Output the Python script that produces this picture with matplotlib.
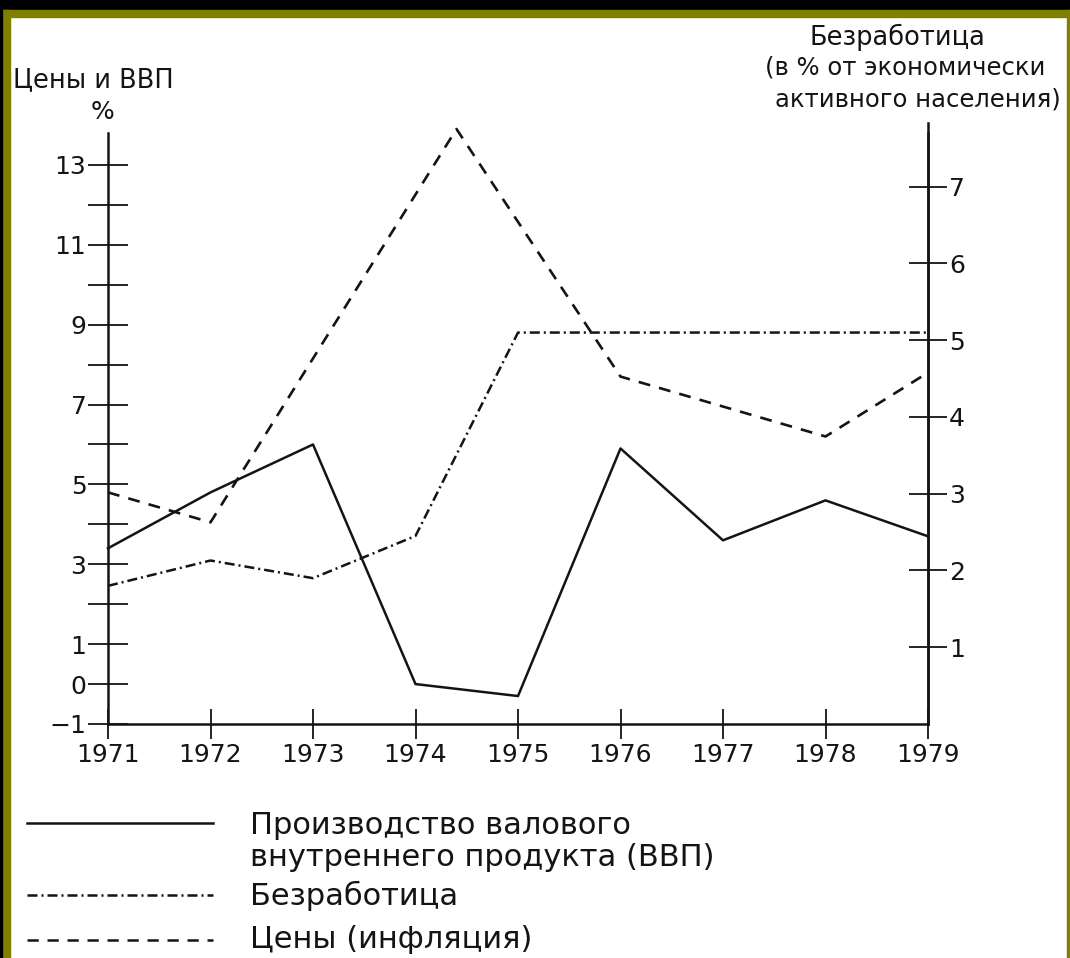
import matplotlib.pyplot as plt
from matplotlib.lines import Line2D
from matplotlib.patches import Rectangle

# the scan uses a wide grotesque; DejaVu Sans is the closest width match
plt.rcParams['font.family'] = ['DejaVu Sans']

# Data
years = [1971, 1972, 1973, 1974, 1975, 1976, 1977, 1978, 1979]
gdp = [3.4, 4.8, 6.0, 0.0, -0.3, 5.9, 3.6, 4.6, 3.7]          # left axis, %
unemployment = [1.8, 2.13, 1.9, 2.45, 5.1, 5.1, 5.1, 5.1, 5.1]  # right axis, %
price_years = [1971, 1972, 1974.4, 1976, 1978, 1979]
prices = [4.8, 4.05, 13.9, 7.7, 6.2, 7.8]                     # left axis, %

left_ticks = [-1, 0, 1, 3, 5, 7, 9, 11, 13]
left_minor = [2, 4, 6, 8, 10, 12]
right_ticks = [1, 2, 3, 4, 5, 6, 7]

INK = '#141414'
OLIVE = '#7f7f00'
SOLID = '-'
DASHDOT = (0, (4, 1.6, 0.8, 1.6))
DASHED = (0, (4.5, 3.5))

W, H = 1070, 958
fig = plt.figure(figsize=(W / 100, H / 100), dpi=100)
fig.patch.set_facecolor('white')

ax = fig.add_axes([108 / W, 1 - 724 / H, 820 / W, 591 / H])
ax2 = ax.twinx()

ax.plot(years, gdp, color=INK, lw=1.8, ls=SOLID, clip_on=False)
ax.plot(price_years, prices, color=INK, lw=1.9, ls=DASHED, clip_on=False)
ax2.plot(years, unemployment, color=INK, lw=1.8, ls=DASHDOT, clip_on=False)

ax.set_xlim(1971, 1979)
ax.set_ylim(-1, 13.8)
ax2.set_ylim(0, 7.7)

for a in (ax, ax2):
    a.spines['top'].set_visible(False)
    for s in a.spines.values():
        s.set_linewidth(1.8)
        s.set_color(INK)
ax2.spines['left'].set_visible(False)
ax2.spines['bottom'].set_visible(False)
ax2.spines['right'].set_bounds(0, 7.83)

ax.set_xticks(years)
ax.set_xticklabels([str(y) for y in years])
ax.set_yticks(left_ticks)
ax.set_yticklabels([str(t).replace('-', '\u2212') for t in left_ticks])
ax.set_yticks(left_minor, minor=True)
ax.tick_params(axis='y', which='both', direction='inout', length=29, width=1.3,
               color=INK, labelsize=18, pad=1, labelcolor=INK)
ax.tick_params(axis='x', direction='inout', length=22, width=1.3, color=INK,
               labelsize=18, pad=3, labelcolor=INK)
ax2.set_yticks(right_ticks)
ax2.tick_params(axis='y', direction='inout', length=28, width=1.3, color=INK,
                labelsize=18, pad=1, labelcolor=INK)

# axis titles
fig.text(13 / W, 1 - 80 / H, 'Цены и ВВП', fontsize=18.5, va='center', ha='left', color=INK)
fig.text(103 / W, 1 - 112 / H, '%', fontsize=18, va='center', ha='center', color=INK)
fig.text(897 / W, 1 - 37 / H, 'Безработица', fontsize=18.5, va='center', ha='center', color=INK)
fig.text(765 / W, 1 - 68 / H, '(в % от экономически', fontsize=17.5, va='center', ha='left', color=INK)
fig.text(775 / W, 1 - 99 / H, 'активного населения)', fontsize=17.5, va='center', ha='left', color=INK)

# legend below the chart
legend_rows = [
    (SOLID, 823, ['Производство валового', 'внутреннего продукта (ВВП)'], [826, 858]),
    (DASHDOT, 895, ['Безработица'], [896]),
    (DASHED, 940, ['Цены (инфляция)'], [940]),
]
for ls, ly, labels, tys in legend_rows:
    fig.add_artist(Line2D([27 / W, 213 / W], [1 - ly / H, 1 - ly / H], color=INK,
                          lw=1.8, ls=ls, transform=fig.transFigure))
    for lab, ty in zip(labels, tys):
        fig.text(250 / W, 1 - ty / H, lab, fontsize=22, va='center', ha='left', color=INK)

# scanned slide frame
fig.add_artist(Rectangle((0, 1 - 10 / H), 1, 10 / H, transform=fig.transFigure,
                         color='black', zorder=10))
fig.add_artist(Rectangle((0, 1 - 17 / H), 1, 7 / H, transform=fig.transFigure,
                         color=OLIVE, zorder=10))
fig.add_artist(Rectangle((0, 0), 10 / W, 1 - 10 / H, transform=fig.transFigure,
                         color=OLIVE, zorder=10))
fig.add_artist(Rectangle((0, 0), 2 / W, 1, transform=fig.transFigure,
                         color='black', zorder=11))
fig.add_artist(Rectangle((1067 / W, 0), 3 / W, 1 - 10 / H, transform=fig.transFigure,
                         color=OLIVE, zorder=10))

fig.savefig('out.png', dpi=100)
